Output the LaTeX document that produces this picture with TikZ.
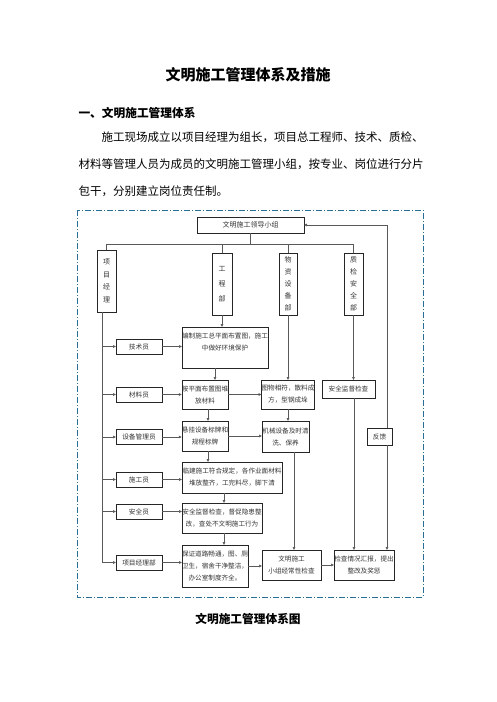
\documentclass[tikz,border=0pt]{standalone}
\usepackage{fontspec}
\setmainfont{Noto Sans CJK SC}
\usetikzlibrary{arrows.meta,positioning,calc}
\definecolor{framecol}{RGB}{40,110,150}

\begin{document}
\begin{tikzpicture}[
  x=1pt, y=-1pt,
  box/.style={draw=black!85, line width=0.5pt, inner sep=0pt, outer sep=0pt, align=center, font=\fontsize{6.6}{12}\selectfont, text=black!80},
  colbox/.style={box, minimum width=19, minimum height=62, font=\fontsize{7}{12.5}\selectfont},
  smallbox/.style={box, minimum width=46, minimum height=15, font=\fontsize{6.7}{8}\selectfont},
  arr/.style={-{Latex[length=3pt,width=3pt]}, draw=black!65, line width=0.5pt},
  line/.style={draw=black!65, line width=0.5pt},
  frame/.style={draw=framecol, line width=0.7pt, dash pattern=on 6pt off 2pt on 1pt off 2pt}
]
\useasboundingbox (0,0) rectangle (496,702);

% Page text
\node[font=\fontsize{15}{18}\selectfont\bfseries] (title) at (248,75) {文明施工管理体系及措施};
\node[anchor=west, font=\fontsize{11.7}{14}\selectfont\bfseries] (head) at (75,113) {一、文明施工管理体系};
\node[anchor=west, font=\fontsize{11.5}{14}\selectfont] (para1) at (98,137) {施工现场成立以项目经理为组长，项目总工程师、技术、质检、};
\node[anchor=west, font=\fontsize{11.5}{14}\selectfont] (para2) at (75,164) {材料等管理人员为成员的文明施工管理小组，按专业、岗位进行分片};
\node[anchor=west, font=\fontsize{11.5}{14}\selectfont] (para3) at (75,191) {包干，分别建立岗位责任制。};

% Frame
\draw[frame] (77,210) rectangle (423,597);

% Leading group
\node[box, minimum width=107, minimum height=16, font=\fontsize{7}{8}\selectfont] (lead) at (250.5,225) {文明施工领导小组};

% Departments
\node[colbox] (pm) at (106.5,281) {项\\目\\经\\理};
\node[colbox, minimum width=20, font=\fontsize{7}{15}\selectfont] (eng) at (222,284) {工\\程\\部};
\node[colbox, minimum width=18, font=\fontsize{7}{12}\selectfont] (mat) at (288,284) {物\\资\\设\\备\\部};
\node[colbox, font=\fontsize{7}{12}\selectfont] (qa) at (353.5,284) {质\\检\\安\\全\\部};

% Staff
\node[smallbox] (tech) at (139,346.5) {技术员};
\node[smallbox] (matl) at (139,394.5) {材料员};
\node[smallbox] (equip) at (139,437) {设备管理员};
\node[smallbox] (cons) at (139,479.5) {施工员};
\node[smallbox] (safe) at (139,511.5) {安全员};
\node[smallbox] (office) at (139,562.5) {项目经理部};

% Engineering tasks
\node[box, minimum width=86, minimum height=41] (plan) at (225,347.5) {编制施工总平面布置图，施工\\中做好环境保护\\\mbox{}};
\node[box, minimum width=46, minimum height=29] (stack) at (205,394.5) {按平面布置图堆\\放材料};
\node[box, minimum width=46, minimum height=30] (sign) at (205,436) {悬挂设备标牌和\\规程标牌};
\node[box, minimum width=100, minimum height=31] (site) at (232,477.5) {临建施工符合规定，各作业面材料\\堆放整齐，工完料尽，脚下清};
\node[box, minimum width=80, minimum height=30] (patrol) at (222,518) {安全监督检查，督促隐患整\\改，查处不文明施工行为};
\node[box, minimum width=66, minimum height=42] (clean) at (215,566) {保证道路畅通，图、厕\\卫生，宿舍干净整洁，\\办公室制度齐全。};

% Material and safety tasks
\node[box, minimum width=52, minimum height=29] (match) at (288,394.5) {图物相符，散料成\\方，型钢成垛};
\node[box, minimum width=47, minimum height=31] (mach) at (285.5,436.5) {机械设备及时清\\洗、保养};
\node[box, minimum width=53, minimum height=18] (super) at (348.5,389) {安全监督检查};
\node[box, minimum width=25, minimum height=17] (fb) at (379.5,436.5) {反馈};
\node[box, minimum width=59, minimum height=30] (check) at (291.5,565) {文明施工\\小组经常性检查};
\node[box, minimum width=60, minimum height=30] (report) at (364,565) {检查情况汇报，提出\\整改及奖惩};

% Bus under leading group
\coordinate (bus) at (0,244);
\draw[line] (lead.south) -- (lead.south |- bus);
\draw[line] (pm.north |- bus) -- (qa.north |- bus);
\foreach \d in {pm,eng,mat,qa}
  \draw[line] (\d.north |- bus) -- (\d.north);

% Trunk of project manager
\coordinate (trunk) at (102,562.5);
\draw[line] (pm.south -| trunk) -- (trunk);
\foreach \s in {tech,matl,equip,cons,safe,office}
  \draw[arr] (\s -| trunk) -- (\s.west);

% Staff to tasks
\draw[arr] (tech.east) -- (tech.east -| plan.west);
\draw[arr] (matl.east) -- (matl.east -| stack.west);
\draw[arr] (equip.east) -- (equip.east -| sign.west);
\draw[arr] (cons.east) -- (cons.east -| site.west);
\draw[arr] (safe.east) -- (safe.east -| patrol.west);
\draw[arr] (office.east) -- (office.east -| clean.west);

% Engineering chain
\draw[arr] (eng.south) -- (eng.south |- plan.north);
\draw[arr] ([xshift=-10pt]plan.south) -- ([xshift=-10pt]plan.south |- stack.north);
\draw[arr] ([xshift=3pt]stack.south) -- ([xshift=3pt]stack.south |- sign.north);
\draw[arr] ([xshift=3pt]sign.south) -- ([xshift=3pt]sign.south |- site.north);
\draw[arr] ([xshift=-8pt]site.south) -- ([xshift=-8pt]site.south |- patrol.north);
\draw[arr] ([xshift=2pt]patrol.south) -- ([xshift=2pt]patrol.south |- clean.north);

% Material chain
\draw[arr] (mat.south) -- (mat.south |- match.north);
\draw[arr] (stack.east) -- (stack.east -| match.west);
\draw[arr] (match.south) -- (match.south |- mach.north);
\draw[arr] (sign.east) -- (sign.east -| mach.west);
\draw[arr] ([xshift=8.5pt]mach.south) -- ([xshift=8.5pt]mach.south |- check.north);
\draw[arr] (clean.east) -- (clean.east -| check.west);
\draw[arr] (check.east) -- (check.east -| report.west);

% Safety chain and feedback
\draw[arr] (qa.south) -- (qa.south |- super.north);
\draw[arr] ([xshift=5.5pt]super.south) -- ([xshift=5.5pt]super.south |- report.north);
\draw[arr] ([xshift=7.5pt]fb.north) |- (lead.east);
\draw[arr] ([xshift=7.5pt]fb.south) -- ([xshift=7.5pt]fb.south |- report.north);

% Caption
\node[font=\fontsize{11.7}{14}\selectfont\bfseries] (caption) at (248,619) {文明施工管理体系图};
\end{tikzpicture}
\end{document}
